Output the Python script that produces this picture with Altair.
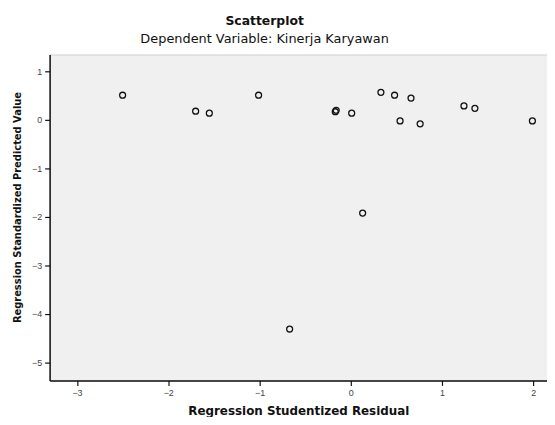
import altair as alt
import pandas as pd

# Regression Studentized Residual (x) and Regression Standardized Predicted Value (y)
x_resid = [-2.50, -1.70, -1.55, -1.01, -0.16, -0.17, 0.01, 0.33, 0.48, 0.66, 0.54, 0.76, 1.24, 1.36, 1.99, 0.13, -0.67]
y_pred = [0.51, 0.18, 0.14, 0.51, 0.20, 0.17, 0.14, 0.57, 0.51, 0.45, -0.02, -0.08, 0.29, 0.24, -0.02, -1.92, -4.31]

x_ticks = [-3, -2, -1, 0, 1, 2]
y_ticks = [1, 0, -1, -2, -3, -4, -5]

df = pd.DataFrame({"x": x_resid, "y": y_pred})

chart = alt.Chart(df).mark_point(
    shape="circle", filled=False, stroke="#111111", strokeWidth=1.3, size=36, opacity=1
).encode(
    x=alt.X("x:Q", scale=alt.Scale(domain=[-3.30, 2.15], nice=False, zero=False),
            axis=alt.Axis(values=x_ticks, title="Regression Studentized Residual", format="d",
                          titleFontSize=12)),
    y=alt.Y("y:Q", scale=alt.Scale(domain=[-5.37, 1.35], nice=False, zero=False),
            axis=alt.Axis(values=y_ticks, title="Regression Standardized Predicted Value", format="d",
                          titleFontSize=10, titleY=154)),
).properties(
    width=502,
    height=329,
    title=alt.TitleParams(
        text="Scatterplot",
        subtitle="Dependent Variable: Kinerja Karyawan",
        fontSize=12.5, fontWeight="bold", font="DejaVu Sans", color="#111111",
        subtitleFontSize=13, subtitleFont="DejaVu Sans", subtitleColor="#111111",
        subtitleFontWeight="normal",
        anchor="middle", dx=-34, offset=9, subtitlePadding=5,
    ),
    autosize=alt.AutoSizeParams(type="none"),
    padding={"left": 42, "top": 45, "right": 0, "bottom": 35},
).configure_view(
    fill="#f0f0f0", stroke="#cfcfcf", strokeWidth=1
).configure_axis(
    domainColor="#111111", domainWidth=1.5, tickColor="#111111", tickSize=5, tickWidth=1.2,
    labelFont="Liberation Sans", labelFontSize=9, labelColor="#444444", labelPadding=3,
    titleFont="DejaVu Sans", titleFontWeight="bold", titleColor="#111111",
    grid=False,
).configure_axisX(titlePadding=8).configure_axisY(titlePadding=9)

chart.save("out.html", embed_options={"renderer": "svg", "actions": False})
